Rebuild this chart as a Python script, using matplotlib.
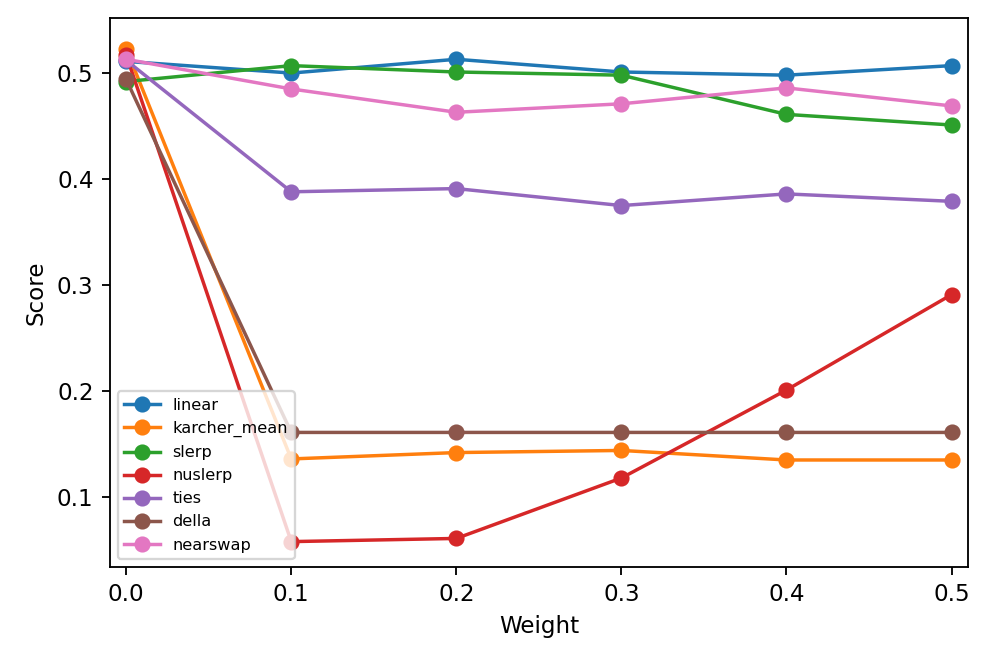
import matplotlib.pyplot as plt

weights = [0.0, 0.1, 0.2, 0.3, 0.4, 0.5]

linear = [0.511, 0.500, 0.513, 0.501, 0.498, 0.507]
karcher_mean = [0.523, 0.136, 0.142, 0.144, 0.135, 0.135]
slerp = [0.492, 0.507, 0.501, 0.498, 0.461, 0.451]
nuslerp = [0.517, 0.058, 0.061, 0.118, 0.201, 0.291]
ties = [0.512, 0.388, 0.391, 0.375, 0.386, 0.379]
della = [0.494, 0.161, 0.161, 0.161, 0.161, 0.161]
nearswap = [0.513, 0.485, 0.463, 0.471, 0.486, 0.469]

series = [
    ('linear', linear),
    ('karcher_mean', karcher_mean),
    ('slerp', slerp),
    ('nuslerp', nuslerp),
    ('ties', ties),
    ('della', della),
    ('nearswap', nearswap),
]

fig, ax = plt.subplots(figsize=(997 / 166, 664 / 166), dpi=166)
for name, vals in series:
    ax.plot(weights, vals, marker='o', label=name)

ax.set_xlabel('Weight')
ax.set_ylabel('Score')
ax.set_xlim(-0.01, 0.51)
ax.set_ylim(0.034, 0.552)
ax.legend(loc='lower left', fontsize=7, handlelength=2.2)
plt.subplots_adjust(left=0.110, right=0.971, top=0.973, bottom=0.146)
plt.savefig('out.png')
